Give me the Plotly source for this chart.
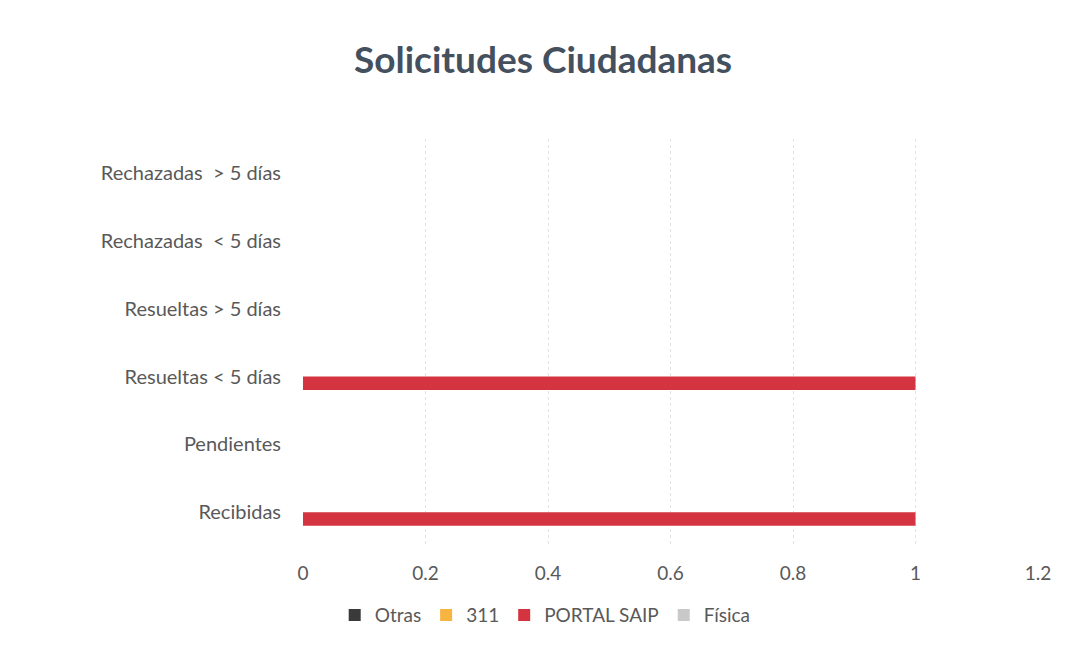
import plotly.graph_objects as go

categories = ["Recibidas", "Pendientes", "Resueltas < 5 días", "Resueltas > 5 días",
              "Rechazadas  < 5 días", "Rechazadas  > 5 días"]
otras = [0, 0, 0, 0, 0, 0]
s311 = [0, 0, 0, 0, 0, 0]
portal_saip = [1, 0, 1, 0, 0, 0]
fisica = [0, 0, 0, 0, 0, 0]

series = [
    ("Física", fisica, "#c9c9c9", 4),
    ("PORTAL SAIP", portal_saip, "#d3343f", 3),
    ("311", s311, "#f7b441", 2),
    ("Otras", otras, "#3a3a3a", 1),
]

fig = go.Figure()
for name, vals, color, rank in series:
    fig.add_trace(go.Bar(
        y=categories, x=vals, name=name, orientation="h",
        marker=dict(color=color, line=dict(width=0)),
        legendrank=rank,
    ))

font_family = "Lato, 'Open Sans', sans-serif"
fig.update_layout(
    width=1068, height=648,
    paper_bgcolor="white", plot_bgcolor="white",
    margin=dict(l=295, r=38, t=131, b=105),
    barmode="group", bargap=0.21, bargroupgap=0,
    title=dict(text="<b>Solicitudes Ciudadanas</b>", x=0.501, xanchor="center",
               xref="container", y=0.92, yanchor="middle", yref="container",
               font=dict(family=font_family, size=37, color="#44505e")),
    font=dict(family=font_family, size=19, color="#595959"),
    legend=dict(orientation="h", x=0.503, xanchor="center", xref="container",
                y=0.063, yanchor="middle", yref="container",
                font=dict(size=19, color="#595959"), traceorder="normal",
                itemwidth=30),
    xaxis=dict(range=[0, 1.2], dtick=0.2, tickformat="~g",
               showgrid=True, gridcolor="#e3e3e3", gridwidth=1, griddash="dot",
               zeroline=False, showline=False, ticks="",
               tickfont=dict(size=19, color="#595959"), ticklabelstandoff=14),
    yaxis=dict(categoryorder="array", categoryarray=categories,
               showgrid=False, zeroline=False, showline=False, ticks="",
               tickfont=dict(size=20, color="#595959"), ticklabelstandoff=21),
)

fig.write_html("out.html")
